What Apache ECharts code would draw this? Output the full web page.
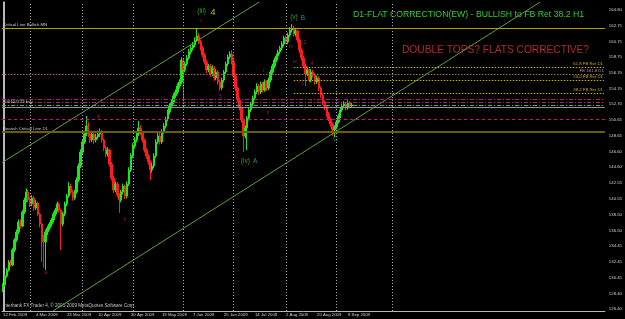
<!DOCTYPE html>
<html><head><meta charset="utf-8">
<script src="https://cdn.jsdelivr.net/npm/echarts@6/dist/echarts.min.js"></script>
<style>html,body{margin:0;padding:0;background:#000;}#c{width:625px;height:319px;}</style>
</head><body><div id="c"></div>
<script>
// ---------- data ----------
const startDate = [2009, 1, 12];          // 12 Feb 2009 (daily bars, Sun-Fri)
const categoryCount = 311;                // bars incl. empty chart-shift area
const dateTickLabels = ['12 Feb 2009','4 Mar 2009','23 Mar 2009','10 Apr 2009','30 Apr 2009','19 May 2009','7 Jun 2009','25 Jun 2009','14 Jul 2009','2 Aug 2009','20 Aug 2009','8 Sep 2009'];
const separatorBars = [14, 41, 67, 93, 119, 146, 172, 201];
const priceTickLabels = ['164.80','162.75','160.75','158.75','156.70','154.70','152.70','150.65','148.65','146.60','144.60','142.55','140.55','138.50','136.50','134.45','132.45','130.45','128.40','126.40'];

const openPrices = [
128.84,129.48,130.64,131.41,132.44,132.05,133.98,135.26,136.29,137.57,
137.06,138.86,140.40,141.43,140.40,139.89,140.66,139.37,140.01,138.60,
137.32,135.52,135.01,136.29,136.80,137.32,137.83,138.60,139.12,139.89,
139.12,137.32,138.60,139.89,140.91,142.20,141.43,140.66,141.43,142.97,
144.77,146.56,147.85,148.88,149.90,148.88,148.10,148.88,148.10,148.49,
148.88,149.13,148.10,147.08,146.31,146.82,145.02,143.22,141.68,142.45,
141.04,140.40,141.43,142.20,140.91,142.45,144.25,146.05,147.33,148.10,
148.88,149.65,149.00,148.10,146.82,146.05,145.28,144.25,144.77,146.05,
147.85,148.62,147.85,149.13,149.90,150.80,151.70,152.47,152.99,153.76,
154.27,155.04,155.55,158.38,157.10,157.87,158.64,159.41,159.92,160.31,
160.95,161.46,160.69,159.92,159.02,158.12,157.10,157.61,156.58,157.35,
156.07,156.84,155.55,154.78,155.81,156.84,157.87,158.76,159.15,158.12,
156.32,154.78,153.24,152.21,150.67,148.62,149.65,150.93,151.96,152.73,
153.50,154.27,155.04,154.27,155.30,154.53,155.55,154.78,155.81,156.84,
157.61,158.38,158.89,159.41,159.92,160.43,161.20,160.69,161.59,162.23,
162.49,161.72,162.10,160.95,159.66,158.64,157.61,156.58,157.10,155.81,
156.84,156.45,155.55,156.07,154.78,153.88,152.99,152.21,151.44,150.80,
150.16,149.39,149.77,150.42,151.19,151.96,152.47,152.73,152.21,152.86,
152.47];
const closePrices = [
129.48,130.64,131.41,132.44,132.05,133.98,135.26,136.29,137.57,137.06,
138.86,140.40,141.43,140.40,139.89,140.66,139.37,140.01,138.60,137.32,
135.52,135.01,136.29,136.80,137.32,137.83,138.60,139.12,139.89,139.12,
137.32,138.60,139.89,140.91,142.20,141.43,140.66,141.43,142.97,144.77,
146.56,147.85,148.88,149.90,148.88,148.10,148.88,148.10,148.49,148.88,
149.13,148.10,147.08,146.31,146.82,145.02,143.22,141.68,142.45,141.04,
140.40,141.43,142.20,140.91,142.45,144.25,146.05,147.33,148.10,148.88,
149.65,149.00,148.10,146.82,146.05,145.28,144.25,144.77,146.05,147.85,
148.62,147.85,149.13,149.90,150.80,151.70,152.47,152.99,153.76,154.27,
155.04,155.55,158.38,157.10,157.87,158.64,159.41,159.92,160.31,160.95,
161.46,160.69,159.92,159.02,158.12,157.10,157.61,156.58,157.35,156.07,
156.84,155.55,154.78,155.81,156.84,157.87,158.76,159.15,158.12,156.32,
154.78,153.24,152.21,150.67,148.62,149.65,150.93,151.96,152.73,153.50,
154.27,155.04,154.27,155.30,154.53,155.55,154.78,155.81,156.84,157.61,
158.38,158.89,159.41,159.92,160.43,161.20,160.69,161.59,162.23,162.49,
161.72,162.10,160.95,159.66,158.64,157.61,156.58,157.10,155.81,156.84,
156.45,155.55,156.07,154.78,153.88,152.99,152.21,151.44,150.80,150.16,
149.39,149.77,150.42,151.19,151.96,152.47,152.73,152.21,152.86,152.47,
152.60];
const lowPrices = [
128.60,129.30,130.40,131.20,131.80,131.90,133.70,135.00,136.00,136.70,
136.90,138.60,140.10,140.10,139.50,139.60,139.00,139.10,138.30,136.90,
132.44,131.67,131.41,135.90,136.50,137.00,137.50,138.30,138.90,138.80,
133.98,137.00,138.30,139.60,140.70,141.10,140.30,140.40,141.20,142.70,
144.50,146.30,147.60,148.60,148.50,147.70,147.80,147.60,147.80,148.20,
148.50,147.80,146.70,145.90,146.00,144.70,142.90,141.30,141.40,140.70,
138.73,140.10,141.10,140.50,140.60,142.20,144.00,145.80,147.00,147.80,
148.60,148.70,147.80,146.50,145.70,144.90,142.97,143.90,144.50,145.80,
147.60,147.50,147.60,148.90,149.60,150.50,151.40,152.20,152.70,153.50,
154.00,154.70,155.30,153.24,156.80,157.60,158.40,159.10,159.60,160.00,
160.70,160.40,159.60,158.70,157.80,156.70,156.80,156.20,156.30,155.70,
155.80,155.20,154.40,154.50,155.50,156.60,157.60,158.50,157.80,156.00,
154.40,152.90,151.90,150.30,146.56,148.30,146.82,150.60,151.70,152.40,
153.20,154.00,153.90,154.00,154.20,154.30,154.40,154.50,155.50,156.60,
157.30,158.10,158.60,159.10,159.60,160.10,160.40,160.40,161.30,161.90,
161.40,161.40,160.60,159.30,158.30,157.30,155.04,156.30,155.50,155.50,
156.10,155.20,155.30,154.40,153.50,152.60,151.90,151.10,150.50,149.80,
148.62,148.49,149.50,150.20,150.90,151.70,152.20,151.90,152.00,152.20,
152.30];
const highPrices = [
129.70,130.85,131.65,132.70,132.75,134.20,135.50,136.60,137.90,137.90,
139.10,140.70,141.90,141.70,140.80,141.00,140.90,140.40,140.20,138.80,
137.50,135.90,136.60,137.10,137.60,138.10,138.90,139.40,140.20,140.10,
139.30,138.90,140.20,141.20,142.70,142.50,141.70,141.70,143.30,145.10,
146.90,148.20,149.30,151.19,150.40,149.20,149.30,149.10,148.90,149.30,
149.60,149.40,148.30,147.40,147.20,147.00,145.30,143.50,142.80,142.70,
141.30,141.70,142.50,142.40,142.80,144.60,146.40,147.70,148.50,149.20,
150.55,150.00,149.20,148.30,147.10,146.30,145.50,145.10,146.40,148.20,
149.00,149.10,149.50,150.30,151.10,152.00,152.80,153.30,154.10,154.60,
155.40,155.90,158.70,158.60,158.20,159.00,159.80,160.30,160.70,161.30,
162.36,161.80,161.00,160.20,159.30,158.40,157.90,157.90,157.70,157.60,
157.20,157.10,155.80,156.10,157.10,158.20,159.10,159.50,159.66,158.40,
156.60,155.00,153.50,152.40,150.90,150.00,151.20,152.30,153.00,153.80,
154.60,155.40,155.30,155.60,155.60,155.90,155.80,156.10,157.10,157.90,
158.70,159.20,159.70,160.20,160.80,161.50,161.50,161.90,162.60,163.00,
162.80,162.50,162.30,161.20,159.90,158.90,157.90,157.40,157.30,157.20,
157.10,156.70,156.40,156.30,155.00,154.10,153.20,152.50,151.70,151.00,
150.40,150.00,150.70,151.50,152.30,152.80,153.10,153.00,153.20,153.10,
152.90];

// horizontal levels
const criticalBullishMN = 162.52;
const fib618 = 157.48, fe1618 = 156.58, fib500 = 155.81, fib382 = 154.14;
const fibStartBar = 150;
const magentaLevels = [153.37, 152.92, 150.80];
const buyOrderLevel = 152.60;
const bidLevel = 152.34;
const bearishCriticalD1 = 149.13;

// trend lines: anchor points [bar position, price]
const upperChannel = [[-0.5, 145.20], [132.25, 165.83]];
const lowerChannel = [[25.83, 126.14], [277.14, 165.83]];

// wave annotations
const annText  = ['(iii)','4','v','(v)','B','(iv)','A','c','C','4','2','1','4','3','5','5','i','ii','iii','i','a','b','iv','iii'];
const annBar   = [102.5,108.4,102.0,150.1,154.7,125.0,130.1,119.9,171.6,118.4,155.8,154.7,159.4,158.9,162.4,112.2,134.3,136.8,49.2,11.8,22.0,62.9,150.6,148.6];
const annPrice = [164.67,164.54,163.39,163.90,163.77,145.41,145.41,145.92,148.23,160.69,160.56,155.30,157.87,152.99,152.99,153.63,156.97,151.57,151.06,142.97,131.02,137.83,158.12,160.05];
const annKind  = ['g','y','r','g','t','g','t','m','t','m','m','m','m','m','m','m','r','r','r','r','r','r','r','r'];

// ---------- build ----------
const MONTHS = ['Jan','Feb','Mar','Apr','May','Jun','Jul','Aug','Sep','Oct','Nov','Dec'];
const categories = [];
let t = Date.UTC(startDate[0], startDate[1], startDate[2]);
while (categories.length < categoryCount) {
  const d = new Date(t);
  if (d.getUTCDay() !== 6) categories.push(d.getUTCDate() + ' ' + MONTHS[d.getUTCMonth()] + ' ' + d.getUTCFullYear());
  t += 86400000;
}
const candles = openPrices.map((o, i) => [o, closePrices[i], lowPrices[i], highPrices[i]]);

const FONT = 'Liberation Sans, Arial, sans-serif';
const smallLbl = { fontSize: 4.3, fontFamily: FONT };
const annStyle = {
  g: { color: '#32cd32', fontSize: 6.5 },
  y: { color: '#e6e600', fontSize: 9 },
  t: { color: '#20b2aa', fontSize: 6.5 },
  m: { color: '#c71585', fontSize: 5 },
  r: { color: '#d82020', fontSize: 5 }
};

function hLine(value, color, type, width, label) {
  return { yAxis: value, lineStyle: { color, type, width }, label: label || { show: false } };
}
function priceTag(value, bg, fg) {
  return { yAxis: value, lineStyle: { opacity: 0, width: 0 },
    label: { show: true, position: 'end', distance: 1, formatter: value.toFixed(2), backgroundColor: bg, color: fg, padding: [1.5, 2, 1, 2], ...smallLbl } };
}
function fibLine(value, color, text, tcolor) {
  return [
    { coord: [fibStartBar, value], lineStyle: { color, type: [1.5, 1.5], width: 1 },
      label: { show: true, position: 'insideEndTop', distance: 1, formatter: text, color: tcolor, ...smallLbl } },
    { coord: [categoryCount - 1, value] }
  ];
}

const markData = [
  hLine(criticalBullishMN, '#b0a000', 'solid', 1, { show: true, position: 'insideStartTop', distance: 1, formatter: 'Critical Line Bullish MN', color: '#c8c8c8', ...smallLbl }),
  fibLine(fib618, '#c8b400', '61.8 FB Ret D1', '#c8b400'),
  hLine(fe1618, '#a8703c', [1.5, 1.5], 1, { show: true, position: 'insideEndTop', distance: 1, formatter: 'FE 161.8 D1', color: '#b89898', ...smallLbl }),
  fibLine(fib500, '#c8b400', '50.0 FB Ret D1', '#c8b400'),
  fibLine(fib382, '#c8b400', '38.2 FB Ret D1', '#c8b400'),
  hLine(magentaLevels[0], '#c0187a', [4, 2, 1, 2], 1),
  hLine(magentaLevels[1], '#c0187a', [4, 2, 1, 2], 1),
  hLine(buyOrderLevel, '#2ecc2e', [4, 2, 1, 2], 1, { show: true, position: 'insideStartTop', distance: 1, formatter: '#00162773 buy', color: '#c8c8c8', ...smallLbl }),
  hLine(bidLevel, '#9090a0', 'solid', 1),
  hLine(magentaLevels[2], '#c0187a', [3, 3], 1),
  hLine(bearishCriticalD1, '#6e5c00', 'solid', 2, { show: true, position: 'insideStartTop', distance: 1, formatter: 'Bearish Critical Line D1', color: '#c8c8c8', ...smallLbl }),
  priceTag(criticalBullishMN, '#ffff00', '#000'),
  priceTag(bidLevel, '#ffffff', '#606060'),
  priceTag(bearishCriticalD1, '#ffd700', '#000')
];
separatorBars.forEach(b => markData.push({ xAxis: b, lineStyle: { color: '#a8a8a8', type: [1, 2], width: 1 }, label: { show: false } }));

const yMin = 126.143, yMax = 165.828;
const chart = echarts.init(document.getElementById('c'), null, { renderer: 'canvas' });
chart.setOption({
  animation: false,
  backgroundColor: '#000000',
  grid: { left: -1, right: 19, top: 2, bottom: 8 },
  xAxis: [
    { type: 'category', data: categories, boundaryGap: true,
      axisLine: { lineStyle: { color: '#b8b8b8', width: 1 } },
      axisTick: { show: false },
      axisLabel: { interval: (i, v) => dateTickLabels.includes(v), align: 'left', margin: 2, color: '#d0d0d0', ...smallLbl },
      splitLine: { show: false } },
    { type: 'value', min: -0.5, max: categoryCount - 0.5, show: false }
  ],
  yAxis: [
    { type: 'value', position: 'right', min: yMin, max: yMax,
      axisLine: { show: true, lineStyle: { color: '#b8b8b8', width: 1 } },
      axisTick: { show: true, length: 2, customValues: priceTickLabels.map(Number), lineStyle: { color: '#b8b8b8' } },
      axisLabel: { customValues: priceTickLabels.map(Number), formatter: v => v.toFixed(2), margin: 4, color: '#d0d0d0', ...smallLbl },
      splitLine: { show: false } },
    { type: 'value', position: 'left', offset: -2.5, min: yMin, max: yMax,
      axisLine: { show: true, lineStyle: { color: '#b8b8b8', width: 1 } },
      axisTick: { show: false }, axisLabel: { show: false }, splitLine: { show: false } }
  ],
  series: [
    { type: 'candlestick', xAxisIndex: 0, yAxisIndex: 0, data: candles, barWidth: 1.9, silent: true,
      itemStyle: { color: '#1ee61e', color0: '#ff1c1c', borderColor: '#1ee61e', borderColor0: '#ff1c1c', borderWidth: 1 },
      markLine: { symbol: ['none', 'none'], silent: true, animation: false, data: markData } },
    { type: 'line', xAxisIndex: 1, yAxisIndex: 0, data: upperChannel, symbol: 'none', silent: true, clip: true,
      lineStyle: { color: '#5aa03c', width: 1 } },
    { type: 'line', xAxisIndex: 1, yAxisIndex: 0, data: lowerChannel, symbol: 'none', silent: true, clip: true,
      lineStyle: { color: '#5aa03c', width: 1 } },
    { type: 'scatter', xAxisIndex: 1, yAxisIndex: 0, symbolSize: 0, silent: true, clip: false,
      data: annText.map((s, i) => ({ name: s, value: [annBar[i], annPrice[i]],
        label: { show: true, position: 'inside', formatter: s, fontFamily: FONT, ...annStyle[annKind[i]] } })) }
  ],
  graphic: [
    { type: 'text', x: 353, y: 15, silent: true, style: { text: 'D1-FLAT CORRECTION(EW) - BULLISH to FB Ret 38.2 H1', fill: '#32cd32', font: '8.7px ' + FONT, verticalAlign: 'middle' } },
    { type: 'text', x: 402, y: 50, silent: true, style: { text: 'DOUBLE TOPS? FLATS CORRECTIVE?', fill: '#b02a2a', font: '10.2px ' + FONT, verticalAlign: 'middle' } },
    { type: 'text', x: 3, y: 306, silent: true, style: { text: 'Interbank FX Trader 4, \u00a9 2001-2009 MetaQuotes Software Corp.', fill: '#c0c0c0', font: '4.6px ' + FONT, verticalAlign: 'middle' } }
  ]
});
</script></body></html>
